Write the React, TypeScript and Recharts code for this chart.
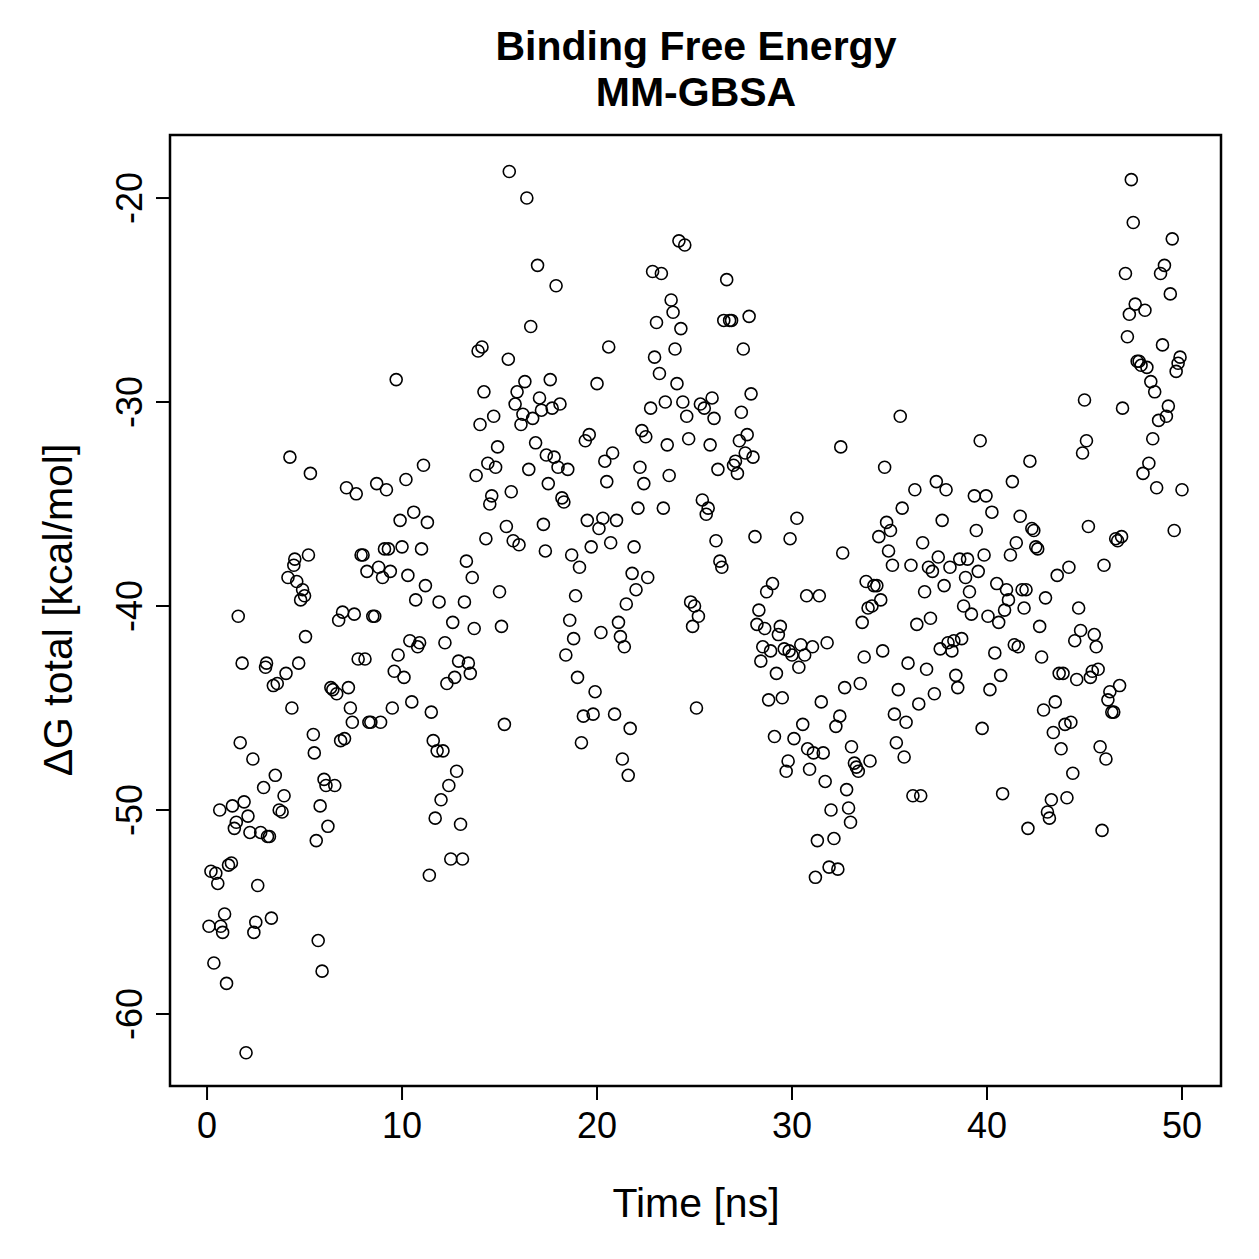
import React from "react";
import {
  ScatterChart,
  Scatter,
  XAxis,
  YAxis,
  ReferenceArea,
} from "recharts";

// MM-GBSA binding free energy per frame: [time (ns), dG total (kcal/mol)]
const FRAMES: [number, number][] = [
  [0.1, -55.7], [0.2, -53.0], [0.35, -57.5], [0.45, -53.1], [0.55, -53.6], [0.65, -50.0], [0.7, -55.7], [0.8, -56.0],
  [0.9, -55.1], [1.0, -58.5], [1.1, -52.7], [1.25, -52.6], [1.3, -49.8], [1.4, -50.9], [1.5, -50.6], [1.6, -40.5],
  [1.7, -46.7], [1.8, -42.8], [1.9, -49.6], [2.0, -61.9], [2.1, -50.3], [2.2, -51.1], [2.35, -47.5], [2.4, -56.0],
  [2.5, -55.5], [2.6, -53.7], [2.75, -51.1], [2.9, -48.9], [3.0, -43.0], [3.05, -42.8], [3.1, -51.3], [3.2, -51.3],
  [3.3, -55.3], [3.4, -43.9], [3.5, -48.3], [3.6, -43.8], [3.7, -50.0], [3.85, -50.1], [3.95, -49.3], [4.05, -43.3],
  [4.15, -38.6], [4.25, -32.7], [4.35, -45.0], [4.45, -38.0], [4.5, -37.7], [4.6, -38.8], [4.7, -42.8], [4.8, -39.7],
  [4.9, -39.2], [5.0, -39.5], [5.05, -41.5], [5.2, -37.5], [5.3, -33.5], [5.45, -46.3], [5.5, -47.2], [5.6, -51.5],
  [5.7, -56.4], [5.8, -49.8], [5.9, -57.9], [6.0, -48.5], [6.1, -48.8], [6.2, -50.8], [6.35, -44.0], [6.45, -44.1],
  [6.55, -48.8], [6.65, -44.3], [6.75, -40.7], [6.85, -46.6], [6.95, -40.3], [7.05, -46.5], [7.15, -34.2], [7.25, -44.0],
  [7.35, -45.0], [7.45, -45.7], [7.55, -40.4], [7.65, -34.5], [7.75, -42.6], [7.9, -37.5], [8.0, -37.5], [8.1, -42.6],
  [8.2, -38.3], [8.3, -45.7], [8.4, -45.7], [8.5, -40.5], [8.6, -40.5], [8.7, -34.0], [8.8, -38.1], [8.9, -45.7],
  [9.0, -38.6], [9.1, -37.2], [9.2, -34.3], [9.3, -37.2], [9.4, -38.3], [9.5, -45.0], [9.6, -43.2], [9.7, -28.9],
  [9.8, -42.4], [9.9, -35.8], [10.0, -37.1], [10.1, -43.5], [10.2, -33.8], [10.3, -38.5], [10.4, -41.7], [10.5, -44.7],
  [10.6, -35.4], [10.7, -39.7], [10.8, -42.0], [10.9, -41.8], [11.0, -37.2], [11.1, -33.1], [11.2, -39.0], [11.3, -35.9],
  [11.4, -53.2], [11.5, -45.2], [11.6, -46.6], [11.7, -50.4], [11.8, -47.1], [11.9, -39.8], [12.0, -49.5], [12.1, -47.1],
  [12.2, -41.8], [12.3, -43.8], [12.4, -48.8], [12.5, -52.4], [12.6, -40.8], [12.7, -43.5], [12.8, -48.1], [12.9, -42.7],
  [13.0, -50.7], [13.1, -52.4], [13.2, -39.8], [13.3, -37.8], [13.4, -42.8], [13.5, -43.3], [13.6, -38.6], [13.7, -41.1],
  [13.8, -33.6], [13.9, -27.5], [14.0, -31.1], [14.1, -27.3], [14.2, -29.5], [14.3, -36.7], [14.4, -33.0], [14.5, -35.0],
  [14.6, -34.6], [14.7, -30.7], [14.8, -33.2], [14.9, -32.2], [15.0, -39.3], [15.1, -41.0], [15.25, -45.8], [15.35, -36.1],
  [15.45, -27.9], [15.5, -18.7], [15.6, -34.4], [15.7, -36.8], [15.8, -30.1], [15.9, -29.5], [16.0, -37.0], [16.1, -31.1],
  [16.2, -30.6], [16.3, -29.0], [16.4, -20.0], [16.5, -33.3], [16.6, -26.3], [16.7, -30.8], [16.85, -32.0], [16.95, -23.3],
  [17.05, -29.8], [17.15, -30.4], [17.25, -36.0], [17.35, -37.3], [17.4, -32.6], [17.5, -34.0], [17.6, -28.9], [17.7, -30.3],
  [17.8, -32.7], [17.9, -24.3], [18.0, -33.2], [18.1, -30.1], [18.2, -34.7], [18.3, -34.9], [18.4, -42.4], [18.5, -33.3],
  [18.6, -40.7], [18.7, -37.5], [18.8, -41.6], [18.9, -39.5], [19.0, -43.5], [19.1, -38.1], [19.2, -46.7], [19.3, -45.4],
  [19.4, -31.9], [19.5, -35.8], [19.6, -31.6], [19.7, -37.1], [19.8, -45.3], [19.9, -44.2], [20.0, -29.1], [20.1, -36.2],
  [20.2, -41.3], [20.3, -35.7], [20.4, -32.9], [20.5, -33.9], [20.6, -27.3], [20.7, -36.9], [20.8, -32.5], [20.9, -45.3],
  [21.0, -35.8], [21.1, -40.8], [21.2, -41.5], [21.3, -47.5], [21.4, -42.0], [21.5, -39.9], [21.6, -48.3], [21.7, -46.0],
  [21.8, -38.4], [21.9, -37.1], [22.0, -39.2], [22.1, -35.2], [22.2, -33.2], [22.3, -31.4], [22.4, -34.0], [22.5, -31.7],
  [22.6, -38.6], [22.75, -30.3], [22.85, -23.6], [22.95, -27.8], [23.05, -26.1], [23.2, -28.6], [23.3, -23.7], [23.4, -35.2],
  [23.5, -30.0], [23.6, -32.1], [23.7, -33.6], [23.8, -25.0], [23.9, -25.6], [24.0, -27.4], [24.1, -29.1], [24.2, -22.1],
  [24.3, -26.4], [24.4, -30.0], [24.5, -22.3], [24.6, -30.7], [24.7, -31.8], [24.8, -39.8], [24.9, -41.0], [25.0, -40.0],
  [25.1, -45.0], [25.2, -40.5], [25.3, -30.1], [25.4, -34.8], [25.5, -30.3], [25.6, -35.5], [25.7, -35.2], [25.8, -32.1],
  [25.9, -29.8], [26.0, -30.8], [26.1, -36.8], [26.2, -33.3], [26.3, -37.8], [26.4, -38.1], [26.5, -26.0], [26.65, -24.0],
  [26.8, -26.0], [26.9, -26.0], [27.0, -33.1], [27.1, -32.9], [27.2, -33.5], [27.3, -31.9], [27.4, -30.5], [27.5, -27.4],
  [27.6, -32.5], [27.7, -31.6], [27.8, -25.8], [27.9, -29.6], [28.0, -32.7], [28.1, -36.6], [28.2, -40.9], [28.3, -40.2],
  [28.4, -42.7], [28.5, -42.0], [28.6, -41.1], [28.7, -39.3], [28.8, -44.6], [28.9, -42.2], [29.0, -38.9], [29.1, -46.4],
  [29.2, -43.3], [29.3, -41.4], [29.4, -41.0], [29.5, -44.5], [29.6, -42.1], [29.7, -48.1], [29.8, -47.6], [29.85, -42.2],
  [29.9, -36.7], [30.0, -42.4], [30.1, -46.5], [30.25, -35.7], [30.35, -43.0], [30.45, -41.9], [30.55, -45.8], [30.65, -42.4],
  [30.75, -39.5], [30.8, -47.0], [30.9, -48.0], [31.05, -42.0], [31.1, -47.2], [31.2, -53.3], [31.3, -51.5], [31.4, -39.5],
  [31.5, -44.7], [31.6, -47.2], [31.7, -48.6], [31.8, -41.8], [31.9, -52.8], [32.0, -50.0], [32.15, -51.4], [32.25, -45.9],
  [32.35, -52.9], [32.45, -45.4], [32.5, -32.2], [32.6, -37.4], [32.7, -44.0], [32.8, -49.0], [32.9, -49.9], [33.0, -50.6],
  [33.05, -46.9], [33.2, -47.7], [33.3, -47.9], [33.4, -48.1], [33.5, -43.8], [33.6, -40.8], [33.7, -42.5], [33.8, -38.8],
  [33.9, -40.1], [34.0, -47.6], [34.1, -40.0], [34.2, -39.0], [34.35, -39.0], [34.45, -36.6], [34.55, -39.7], [34.65, -42.2],
  [34.75, -33.2], [34.85, -35.9], [34.95, -37.3], [35.05, -36.3], [35.15, -38.0], [35.25, -45.3], [35.35, -46.7], [35.45, -44.1],
  [35.55, -30.7], [35.65, -35.2], [35.75, -47.4], [35.85, -45.7], [35.95, -42.8], [36.1, -38.0], [36.2, -49.3], [36.3, -34.3],
  [36.4, -40.9], [36.5, -44.8], [36.6, -49.3], [36.7, -36.9], [36.8, -39.3], [36.9, -43.1], [37.0, -38.1], [37.1, -40.6],
  [37.2, -38.3], [37.3, -44.3], [37.4, -33.9], [37.5, -37.6], [37.6, -42.1], [37.7, -35.8], [37.8, -39.0], [37.9, -34.3],
  [38.0, -41.8], [38.1, -38.1], [38.2, -42.2], [38.3, -41.7], [38.4, -43.4], [38.5, -44.0], [38.6, -37.7], [38.7, -41.6],
  [38.8, -40.0], [38.9, -38.6], [39.0, -37.7], [39.1, -39.3], [39.2, -40.4], [39.35, -34.6], [39.45, -36.3], [39.55, -38.3],
  [39.65, -31.9], [39.75, -46.0], [39.85, -37.5], [39.95, -34.6], [40.05, -40.5], [40.15, -44.1], [40.25, -35.4], [40.4, -42.3],
  [40.5, -38.9], [40.6, -40.8], [40.7, -43.4], [40.8, -49.2], [40.9, -40.2], [41.0, -39.2], [41.1, -39.7], [41.2, -37.5],
  [41.3, -33.9], [41.4, -41.9], [41.5, -36.9], [41.6, -42.0], [41.7, -35.6], [41.8, -39.2], [41.9, -40.1], [42.0, -39.2],
  [42.1, -50.9], [42.2, -32.9], [42.3, -36.2], [42.4, -36.3], [42.5, -37.1], [42.6, -37.2], [42.7, -41.0], [42.8, -42.5],
  [42.9, -45.1], [43.0, -39.6], [43.1, -50.1], [43.2, -50.4], [43.3, -49.5], [43.4, -46.2], [43.5, -44.7], [43.6, -38.5],
  [43.7, -43.3], [43.8, -47.0], [43.9, -43.3], [44.0, -45.8], [44.1, -49.4], [44.2, -38.1], [44.3, -45.7], [44.4, -48.2],
  [44.5, -41.7], [44.6, -43.6], [44.7, -40.1], [44.8, -41.2], [44.9, -32.5], [45.0, -29.9], [45.1, -31.9], [45.2, -36.1],
  [45.3, -43.5], [45.4, -43.2], [45.5, -41.4], [45.6, -42.0], [45.7, -43.1], [45.8, -46.9], [45.9, -51.0], [46.0, -38.0],
  [46.1, -47.5], [46.2, -44.6], [46.3, -44.2], [46.4, -45.2], [46.5, -45.2], [46.6, -36.7], [46.7, -36.8], [46.8, -43.9],
  [46.9, -36.6], [46.95, -30.3], [47.1, -23.7], [47.2, -26.8], [47.3, -25.7], [47.4, -19.1], [47.5, -21.2], [47.6, -25.2],
  [47.7, -28.0], [47.8, -28.0], [47.9, -28.2], [48.0, -33.5], [48.1, -25.5], [48.2, -28.3], [48.3, -33.0], [48.4, -29.0],
  [48.5, -31.8], [48.6, -29.5], [48.7, -34.2], [48.8, -30.9], [48.9, -23.7], [49.0, -27.2], [49.1, -23.3], [49.2, -30.7],
  [49.3, -30.2], [49.4, -24.7], [49.5, -22.0], [49.6, -36.3], [49.7, -28.5], [49.8, -28.1], [49.9, -27.8], [50.0, -34.3],
];

const X_TICKS = [0, 10, 20, 30, 40, 50];
const Y_TICKS = [-60, -50, -40, -30, -20];
const X_DOMAIN: [number, number] = [-1.9, 52.0];
const Y_DOMAIN: [number, number] = [-63.53, -16.91];

const FONT = "'Liberation Sans', Arial, Helvetica, sans-serif";

const data = FRAMES.map(([t, dG]) => ({ t, dG }));

// open circle, like R's pch = 1
const Ring = (props: any) => {
  const { cx, cy } = props;
  if (cx == null || cy == null) return null;
  return <circle cx={cx} cy={cy} r={6} fill="none" stroke="#000" strokeWidth={1.6} />;
};

// y tick labels are drawn parallel to the axis
const YTick = (props: any) => {
  const { x, y, payload } = props;
  return (
    <text
      x={x}
      y={y}
      transform={`rotate(-90, ${x}, ${y})`}
      textAnchor="middle"
      fontFamily={FONT}
      fontSize={36}
      fill="#000"
    >
      {payload.value}
    </text>
  );
};

export default function App() {
  return (
    <div style={{ position: "absolute", left: 0, top: 0, width: 1259, height: 1259, background: "#fff" }}>
      <ScatterChart
        width={1259}
        height={1259}
        margin={{ top: 135, right: 38, bottom: 0, left: 0 }}
      >
        <XAxis
          dataKey="t"
          type="number"
          domain={X_DOMAIN}
          ticks={X_TICKS}
          allowDataOverflow
          height={173}
          axisLine={false}
          tickLine={{ stroke: "#000", strokeWidth: 2 }}
          tickSize={14}
          tickMargin={12}
          tick={{ fill: "#000", fontSize: 36, fontFamily: FONT }}
        />
        <YAxis
          dataKey="dG"
          type="number"
          domain={Y_DOMAIN}
          ticks={Y_TICKS}
          allowDataOverflow
          width={170}
          axisLine={false}
          tickLine={{ stroke: "#000", strokeWidth: 2 }}
          tickSize={14}
          tickMargin={14}
          tick={<YTick />}
        />
        <ReferenceArea
          x1={X_DOMAIN[0]}
          x2={X_DOMAIN[1]}
          y1={Y_DOMAIN[0]}
          y2={Y_DOMAIN[1]}
          fill="none"
          stroke="#000"
          strokeWidth={2.5}
          ifOverflow="visible"
        />
        <Scatter data={data} dataKey="dG" shape={<Ring />} isAnimationActive={false} />
      </ScatterChart>
      <svg
        width={1259}
        height={1259}
        style={{ position: "absolute", left: 0, top: 0, pointerEvents: "none" }}
        fontFamily={FONT}
      >
        <text x={696} y={60} textAnchor="middle" fontSize={41} fontWeight="bold">
          Binding Free Energy
        </text>
        <text x={696} y={106} textAnchor="middle" fontSize={41} fontWeight="bold">
          MM-GBSA
        </text>
        <text x={696} y={1217} textAnchor="middle" fontSize={41}>
          Time [ns]
        </text>
        <text x={72} y={610} textAnchor="middle" fontSize={41} transform="rotate(-90, 72, 610)">
          ΔG total [kcal/mol]
        </text>
      </svg>
    </div>
  );
}
